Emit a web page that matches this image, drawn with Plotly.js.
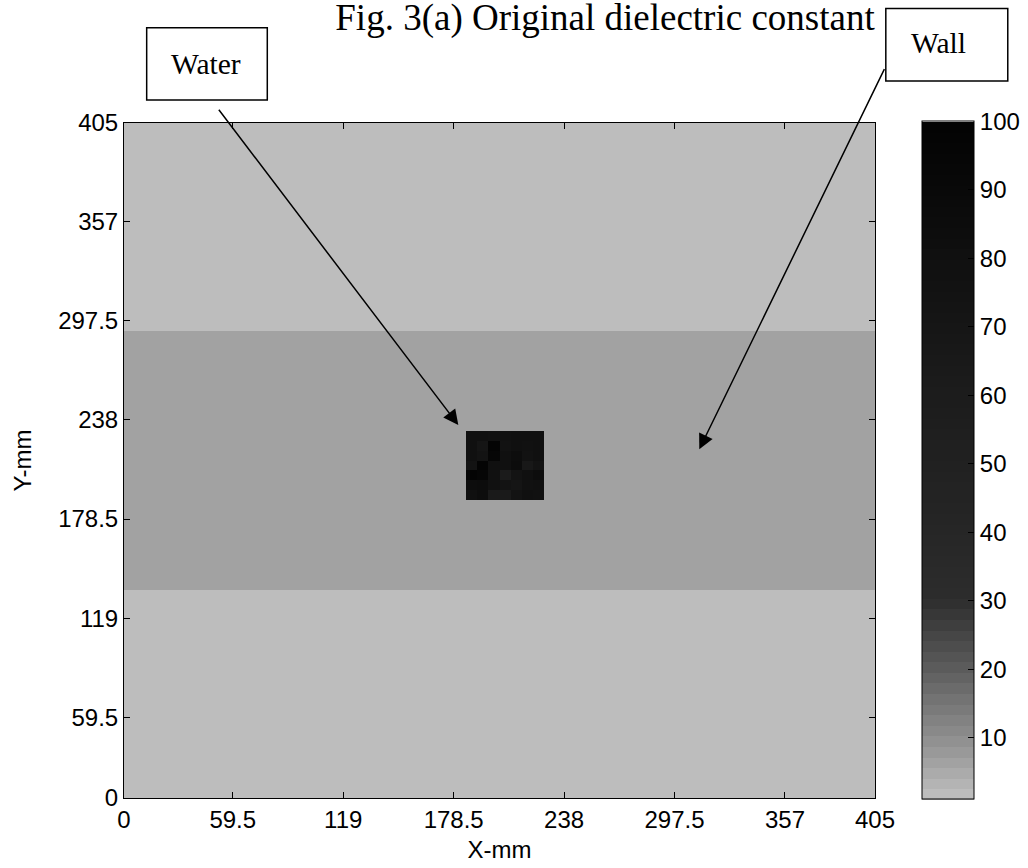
<!DOCTYPE html>
<html><head><meta charset="utf-8">
<script src="https://cdn.plot.ly/plotly-3.0.1.min.js"></script>
<style>html,body{margin:0;padding:0;background:#fff}#chart{width:1028px;height:868px}</style>
</head><body><div id="chart"></div>
<script>
// ---- data ----
const nCols = 68;
const nRows = 68;
const airEps = 1;
const wallEps = 7;
const wallRowStart = 21;   // grid rows counted from the bottom
const wallRowEnd = 47;
const waterColStart = 31;
const waterRowStart = 30;
// water block cell values, listed top row first
const waterCells = [
  [80, 80, 78, 78, 80, 80, 80],
  [80, 72, 97, 76, 80, 78, 80],
  [80, 74, 95, 80, 84, 76, 80],
  [74, 97, 80, 80, 86, 66, 74],
  [97, 95, 78, 62, 74, 80, 84],
  [84, 86, 78, 74, 72, 78, 80],
  [80, 84, 64, 64, 74, 80, 78]
];
const xTickLabels = ['0', '59.5', '119', '178.5', '238', '297.5', '357', '405'];
const yTickLabels = ['0', '59.5', '119', '178.5', '238', '297.5', '357', '405'];
const cbTickVals = [10, 20, 30, 40, 50, 60, 70, 80, 90, 100];
// colormap: value -> grey level
const cmapVals = [1, 5, 10, 15, 20, 25, 29, 31, 40, 50, 60, 70, 80, 90, 100];
const cmapGray = [194, 170, 142, 118, 93, 70, 50, 44, 38, 33, 28, 22, 16, 9, 2];
const zMin = 1, zMax = 100, nBands = 64;

// ---- build grid ----
const z = [];
for (let r = 0; r < nRows; r++) {
  const row = [];
  for (let c = 0; c < nCols; c++) {
    let v = airEps;
    if (r >= wallRowStart && r < wallRowEnd) v = wallEps;
    const wr = r - waterRowStart, wc = c - waterColStart;
    if (wr >= 0 && wr < waterCells.length && wc >= 0 && wc < waterCells[0].length) {
      v = waterCells[waterCells.length - 1 - wr][wc];
    }
    row.push(v);
  }
  z.push(row);
}

function grayAt(v) {
  if (v <= cmapVals[0]) return cmapGray[0];
  for (let i = 1; i < cmapVals.length; i++) {
    if (v <= cmapVals[i]) {
      const t = (v - cmapVals[i-1]) / (cmapVals[i] - cmapVals[i-1]);
      return cmapGray[i-1] + t * (cmapGray[i] - cmapGray[i-1]);
    }
  }
  return cmapGray[cmapGray.length - 1];
}
const colorscale = [];
for (let i = 0; i < nBands; i++) {
  const v = zMin + (i + 0.5) * (zMax - zMin) / nBands;
  const g = Math.round(grayAt(v));
  const col = 'rgb(' + g + ',' + g + ',' + g + ')';
  colorscale.push([i / nBands, col]);
  colorscale.push([(i + 1) / nBands, col]);
}

const sans = 'Liberation Sans, Arial, sans-serif';
const serif = 'Liberation Serif, Times New Roman, serif';

const trace = {
  type: 'heatmap',
  z: z,
  x0: 0.5, dx: 1, y0: 0.5, dy: 1,
  zmin: zMin, zmax: zMax,
  colorscale: colorscale,
  zsmooth: false,
  hoverinfo: 'skip',
  colorbar: {
    thickness: 52, thicknessmode: 'pixels',
    len: 678, lenmode: 'pixels',
    x: 1.0626, xanchor: 'left', xpad: 0,
    y: 0.5, yanchor: 'middle', ypad: 0,
    outlinecolor: '#000', outlinewidth: 1,
    ticks: 'inside', ticklen: 6, tickcolor: '#000', tickwidth: 1,
    tickvals: cbTickVals,
    tickfont: {family: sans, size: 24, color: '#000'}
  }
};

const axisCommon = {
  range: [0, 68],
  ticks: 'inside', ticklen: 6, tickwidth: 1, tickcolor: '#000',
  showline: true, linecolor: '#000', linewidth: 1, mirror: 'ticks',
  showgrid: false, zeroline: false,
  tickfont: {family: sans, size: 24, color: '#000'}
};

const layout = {
  width: 1028, height: 868,
  margin: {l: 124, r: 153, t: 123, b: 70, pad: 0, autoexpand: false},
  paper_bgcolor: '#fff', plot_bgcolor: '#fff',
  showlegend: false,
  title: {
    text: 'Fig. 3(a) Original dielectric constant',
    font: {family: serif, size: 37, color: '#000'},
    x: 605 / 1028, xanchor: 'center', xref: 'container',
    y: 1 - 4 / 868, yanchor: 'top', yref: 'container', pad: {t: 0, b: 0}
  },
  xaxis: Object.assign({}, axisCommon, {
    tickmode: 'array',
    tickvals: [0, 9.85, 19.85, 29.85, 39.85, 49.85, 59.85, 68],
    ticktext: xTickLabels,
    title: {text: 'X-mm', font: {family: sans, size: 24, color: '#000'}, standoff: 9}
  }),
  yaxis: Object.assign({}, axisCommon, {
    tickmode: 'array',
    tickvals: [0, 8.1, 18.1, 28.1, 38.1, 48.1, 58.1, 68],
    ticktext: yTickLabels,
    title: {text: 'Y-mm', font: {family: sans, size: 24, color: '#000'}, standoff: 19}
  }),
  shapes: [
    {type: 'rect', xref: 'paper', yref: 'paper', layer: 'above',
     x0: 0.0302, x1: 0.1908, y0: 1.0341, y1: 1.1412,
     line: {color: '#000', width: 1.5}, fillcolor: '#fff'},
    {type: 'rect', xref: 'paper', yref: 'paper', layer: 'above',
     x0: 1.0144, x1: 1.1768, y0: 1.0622, y1: 1.1698,
     line: {color: '#000', width: 1.5}, fillcolor: '#fff'}
  ],
  annotations: [
    {text: 'Water', xref: 'paper', yref: 'paper', x: 0.0603, y: 1.0874,
     xanchor: 'left', yanchor: 'middle', showarrow: false,
     font: {family: serif, size: 29.5, color: '#000'}},
    {text: 'Wall', xref: 'paper', yref: 'paper', x: 1.045, y: 1.118,
     xanchor: 'left', yanchor: 'middle', showarrow: false,
     font: {family: serif, size: 29.5, color: '#000'}},
    {text: '', xref: 'paper', yref: 'paper',
     x: (458.3 - 124) / 751, y: (798 - 425) / 675,
     showarrow: true, arrowhead: 2, arrowsize: 2, arrowwidth: 1.5, arrowcolor: '#000',
     ax: -240.6, ay: -316.7, standoff: 0},
    {text: '', xref: 'paper', yref: 'paper',
     x: (699.3 - 124) / 751, y: (798 - 449.3) / 675,
     showarrow: true, arrowhead: 2, arrowsize: 2, arrowwidth: 1.5, arrowcolor: '#000',
     ax: 185.8, ay: -381.7, standoff: 0}
  ]
};

Plotly.newPlot('chart', [trace], layout, {displayModeBar: false, staticPlot: true});
</script>
</body></html>
